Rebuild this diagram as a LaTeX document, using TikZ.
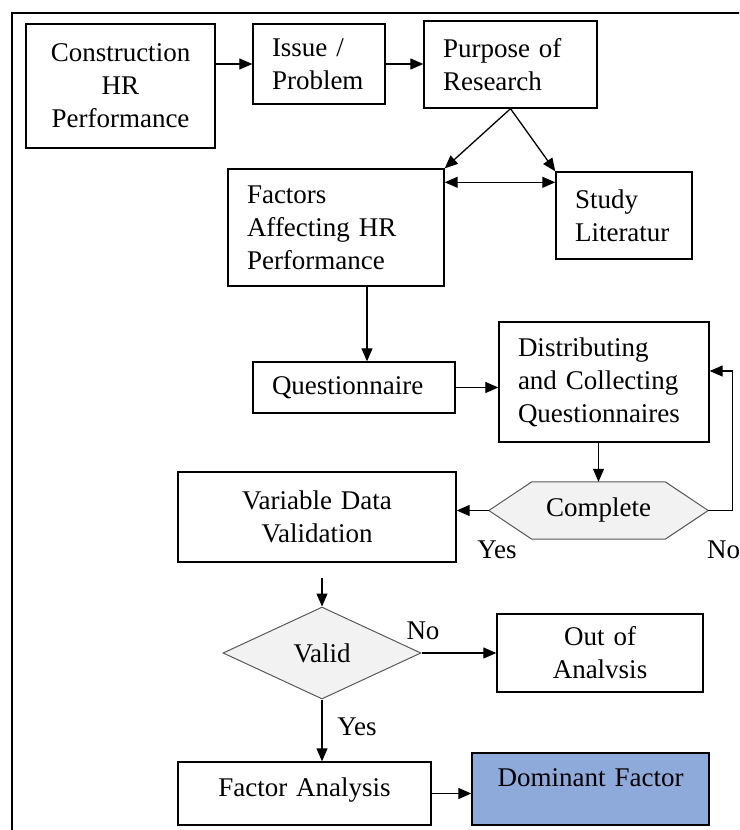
\documentclass[tikz,border=0pt]{standalone}
\usepackage{fontspec}
\setmainfont{Liberation Serif}
\usetikzlibrary{arrows.meta,shapes.geometric,backgrounds}
\definecolor{shapegray}{HTML}{F2F2F2}
\definecolor{domblue}{HTML}{8EAADB}
\definecolor{edgegray}{HTML}{595959}
\tikzset{
  txt/.style={font=\fontsize{27}{33}\selectfont},
  base/.style={txt, draw=black, line width=1.4pt, inner sep=0pt, rectangle},
  lbox/.style={base, align=left},
  cbox/.style={base, align=center},
  conn/.style={line width=1.3pt, -{Triangle[length=13pt,width=11pt]}},
  dconn/.style={line width=1.3pt, {Triangle[length=13pt,width=11pt]}-{Triangle[length=13pt,width=11pt]}},
  lbl/.style={txt, inner sep=0pt},
  frameline/.style={line width=1.8pt},
  grayshape/.style={draw=edgegray, line width=1pt, fill=shapegray},
}
\begin{document}
\begin{tikzpicture}[x=1pt,y=-1pt]
\useasboundingbox (0,0) rectangle (739,830);
\begin{scope}
\clip (0,0) rectangle (739,830);
\draw[frameline] (12,13) rectangle (760,860);
\end{scope}

% top row
\node[cbox, minimum width=189pt, minimum height=124pt, text width=180pt] (cons) at (120.5,86) {Construction\\HR\\Performance};
\node[lbox, minimum width=132pt, minimum height=80pt, text width=94pt] (issue) at (319,64) {Issue /\\Problem};
\node[lbox, minimum width=173pt, minimum height=87pt, text width=135pt] (purp) at (510.5,64.5) {Purpose of\\Research};

% second row
\node[lbox, minimum width=216pt, minimum height=117pt, text width=178pt] (fact) at (336,227.5) {Factors\\Affecting HR\\Performance};
\node[lbox, minimum width=136pt, minimum height=87pt, text width=98pt] (study) at (624,215.5) {Study\\Literatur};

% questionnaire row
\node[lbox, minimum width=202pt, minimum height=51pt, text width=164pt] (quest) at (354,387.5) {Questionnaire};
\node[lbox, minimum width=210pt, minimum height=120pt, text width=172pt] (dist) at (604,382) {Distributing\\and Collecting\\Questionnaires};

% complete hexagon
\node[txt, inner sep=0pt, minimum width=219pt, minimum height=57pt] (hex) at (598.5,510.5) {Complete};
\begin{scope}[on background layer]
\draw[grayshape] (hex.west) -- ([xshift=43pt]hex.north west) -- ([xshift=-43pt]hex.north east) -- (hex.east) -- ([xshift=-43pt]hex.south east) -- ([xshift=43pt]hex.south west) -- cycle;
\end{scope}

\node[cbox, minimum width=278pt, minimum height=90pt, text width=260pt] (var) at (317,517) {Variable Data\\Validation};

% valid diamond
\node[txt, diamond, grayshape, inner sep=0pt, minimum width=198pt, minimum height=92pt] (valid) at (322,653) {Valid};
\node[cbox, minimum width=206pt, minimum height=78pt, text width=190pt] (out) at (600,653) {Out of\\Analvsis};

% bottom row
\node[cbox, minimum width=253pt, minimum height=63pt, text width=240pt, text height=19pt, text depth=14pt] (fa) at (304.5,793.5) {Factor Analysis};
\node[cbox, fill=domblue, minimum width=237pt, minimum height=72pt, text width=225pt, text height=19pt, text depth=24pt] (dom) at (590.5,789) {Dominant Factor};

% labels
\node[lbl] (yes1) at (497,550) {Yes};
\node[lbl] (no1) at (723.5,550) {No};
\node[lbl] (no2) at (423,631) {No};
\node[lbl] (yes2) at (357,727) {Yes};

% connectors
\draw[conn] (issue.west -| cons.east) -- (issue.west);
\draw[conn] (issue.east) -- (issue.east -| purp.west);
\draw[conn] (purp.south) -- (fact.north east);
\draw[conn] (purp.south) -- (study.north west);
\draw[dconn] ([yshift=-14pt]fact.north east) -- ([yshift=-14pt]fact.north east -| study.west);
\draw[conn] ([xshift=31pt]fact.south) -- ([xshift=31pt]fact.south |- quest.north);
\draw[conn] (quest.east) -- (quest.east -| dist.west);
\draw[conn] (hex.north |- dist.south) -- (hex.north);
\draw[conn] (hex.west) -- (hex.west -| var.east);
\draw[conn] (hex.east) -- ++(24,0) |- ([yshift=11pt]dist.east);
\draw[conn] ([yshift=-15pt]valid.north |- var.south) -- (valid.north);
\draw[conn] (valid.east) -- (out.west);
\draw[conn] (valid.south) -- (valid.south |- fa.north);
\draw[conn] (fa.east) -- (fa.east -| dom.west);
\end{tikzpicture}
\end{document}
